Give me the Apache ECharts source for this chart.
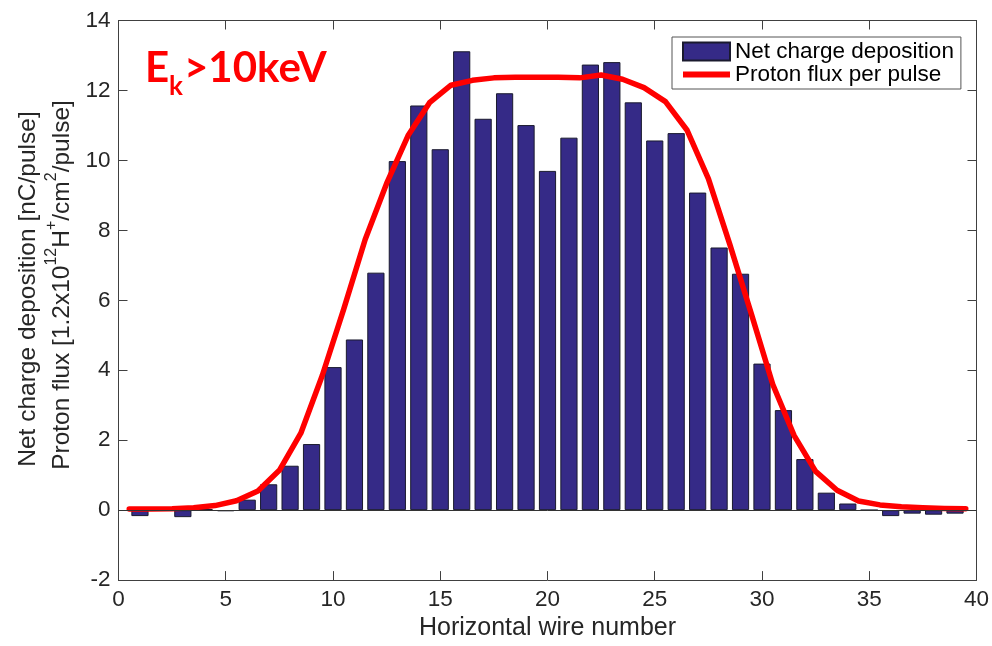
<!DOCTYPE html>
<html>
<head>
<meta charset="utf-8">
<script src="https://cdn.jsdelivr.net/npm/echarts@6/dist/echarts.min.js"></script>
<style>
html,body{margin:0;padding:0;background:#fff;}
#chart{width:992px;height:646px;}
</style>
</head>
<body>
<div id="chart"></div>
<script>
// Wire numbers (bar categories on a numeric axis)
var wires = [1,2,3,4,5,6,7,8,9,10,11,12,13,14,15,16,17,18,19,20,21,22,23,24,25,26,27,28,29,30,31,32,33,34,35,36,37,38,39];
// Net charge deposition [nC/pulse]
var charge = [-0.17,0.02,-0.20,0.03,-0.03,0.30,0.74,1.27,1.89,4.09,4.88,6.79,9.98,11.57,10.32,13.12,11.19,11.92,11.01,9.70,10.65,12.74,12.81,11.66,10.57,10.78,9.08,7.51,6.76,4.19,2.86,1.46,0.50,0.19,0.00,-0.17,-0.10,-0.13,-0.10];
// Proton flux positions and values
var fluxPos = [0.5,1.5,2.5,3.5,4.5,5.5,6.5,7.5,8.5,9.5,10.5,11.5,12.5,13.5,14.5,15.5,16.5,17.5,18.5,19.5,20.5,21.5,22.5,23.5,24.5,25.5,26.5,27.5,28.5,29.5,30.5,31.5,32.5,33.5,34.5,35.5,36.5,37.5,38.5,39.5];
var flux = [0.03,0.03,0.04,0.07,0.13,0.27,0.55,1.14,2.20,3.85,5.75,7.74,9.34,10.71,11.65,12.15,12.29,12.36,12.38,12.38,12.38,12.36,12.44,12.32,12.08,11.68,10.87,9.48,7.60,5.62,3.60,2.13,1.11,0.57,0.26,0.15,0.10,0.07,0.05,0.04];
// Axis ticks
var xTicks = {min:0, max:40, interval:5};
var yTicks = {min:-2, max:14, interval:2};
var seriesNames = ['Net charge deposition','Proton flux per pulse'];
var xTitle = 'Horizontal wire number';

var barData = wires.map(function(w,i){return [w, charge[i]];});
var lineData = fluxPos.map(function(p,i){return [p, flux[i]];});

var FONT = 'Liberation Sans, Arial, Helvetica, sans-serif';
var AX = '#404040';

var chart = echarts.init(document.getElementById('chart'), null, {renderer:'canvas'});
var option = {
  animation:false,
  backgroundColor:'#fff',
  grid:{left:118.5, right:14.7, top:20.5, bottom:60.2, containLabel:false},
  legend:{
    orient:'vertical', left:672, top:37,
    backgroundColor:'#fff', borderColor:'#555', borderWidth:1,
    padding:[3,7,3,10], itemGap:0, itemWidth:47, itemHeight:18, itemTextGap:5,
    symbolKeepAspect:true,
    textStyle:{fontFamily:FONT, fontSize:22.5, color:'#000'},
    data:[{name:seriesNames[0], icon:'rect'},{name:seriesNames[1], icon:'path://M0,0L47,0L47,6L0,6Z'}]
  },
  xAxis:[{
    type:'value', min:xTicks.min, max:xTicks.max, interval:xTicks.interval,
    position:'bottom',
    name:xTitle, nameLocation:'middle', nameGap:34,
    nameTextStyle:{fontFamily:FONT, fontSize:25, color:'#262626'},
    axisLine:{onZero:false, lineStyle:{color:AX, width:1}},
    axisTick:{inside:true, length:9, lineStyle:{color:AX}},
    axisLabel:{fontFamily:FONT, fontSize:22.5, color:'#262626', margin:8},
    splitLine:{show:false}
  },{
    type:'value', min:xTicks.min, max:xTicks.max, interval:xTicks.interval,
    position:'top',
    axisLine:{onZero:false, lineStyle:{color:AX, width:1}},
    axisTick:{inside:true, length:9, lineStyle:{color:AX}},
    axisLabel:{show:false}, splitLine:{show:false}
  }],
  yAxis:[{
    type:'value', min:yTicks.min, max:yTicks.max, interval:yTicks.interval,
    position:'left',
    axisLine:{show:true, onZero:false, lineStyle:{color:AX, width:1}},
    axisTick:{show:true, inside:true, length:9, lineStyle:{color:AX}},
    axisLabel:{fontFamily:FONT, fontSize:22.5, color:'#262626', margin:8},
    splitLine:{show:false}
  },{
    type:'value', min:yTicks.min, max:yTicks.max, interval:yTicks.interval,
    position:'right',
    axisLine:{show:true, onZero:false, lineStyle:{color:AX, width:1}},
    axisTick:{show:true, inside:true, length:9, lineStyle:{color:AX}},
    axisLabel:{show:false}, splitLine:{show:false}
  }],
  series:[{
    name:seriesNames[0], type:'bar', xAxisIndex:0, yAxisIndex:0,
    data:barData, barWidth:17.2,
    itemStyle:{color:'#352A87', borderColor:'#1a1a2e', borderWidth:1},
    markLine:{
      silent:true, symbol:'none', animation:false,
      label:{show:false},
      lineStyle:{color:'#333', width:1, type:'solid'},
      data:[{yAxis:0}]
    },
    z:2
  },{
    name:seriesNames[1], type:'line', xAxisIndex:0, yAxisIndex:0,
    data:lineData, symbol:'none', smooth:false,
    lineStyle:{color:'#ff0000', width:5.5, join:'round', cap:'round'},
    itemStyle:{color:'#ff0000'},
    z:3
  }],
  graphic:[
    {type:'text', left:145, top:47, z:10,
     style:{text:'E', fontFamily:'Lato, Open Sans, sans-serif', fontWeight:'bold', fontSize:42, fill:'#ff0000'}},
    {type:'text', left:169, top:74, z:10,
     style:{text:'k', fontFamily:'Lato, Open Sans, sans-serif', fontWeight:'bold', fontSize:26, fill:'#ff0000'}},
    {type:'text', left:184, top:47, z:10,
     style:{text:'>10keV', fontFamily:'Lato, Open Sans, sans-serif', fontWeight:'bold', fontSize:42, fill:'#ff0000'}},
    {type:'text', x:28, y:289, rotation:Math.PI/2, z:10,
     style:{text:'Net charge deposition [nC/pulse]', fontFamily:FONT, fontSize:24.5, fill:'#262626', align:'center', verticalAlign:'middle'}},
    {type:'text', x:62, y:285, rotation:Math.PI/2, z:10,
     style:{text:'Proton flux [1.2x10{s|12}H{s|+}/cm{s|2}/pulse]', fontFamily:FONT, fontSize:24.5, lineHeight:36, fill:'#262626', align:'center', verticalAlign:'middle',
       rich:{s:{fontFamily:FONT, fontSize:16, lineHeight:18, fill:'#262626', verticalAlign:'top'}}}}
  ]
};
chart.setOption(option);
</script>
</body>
</html>
